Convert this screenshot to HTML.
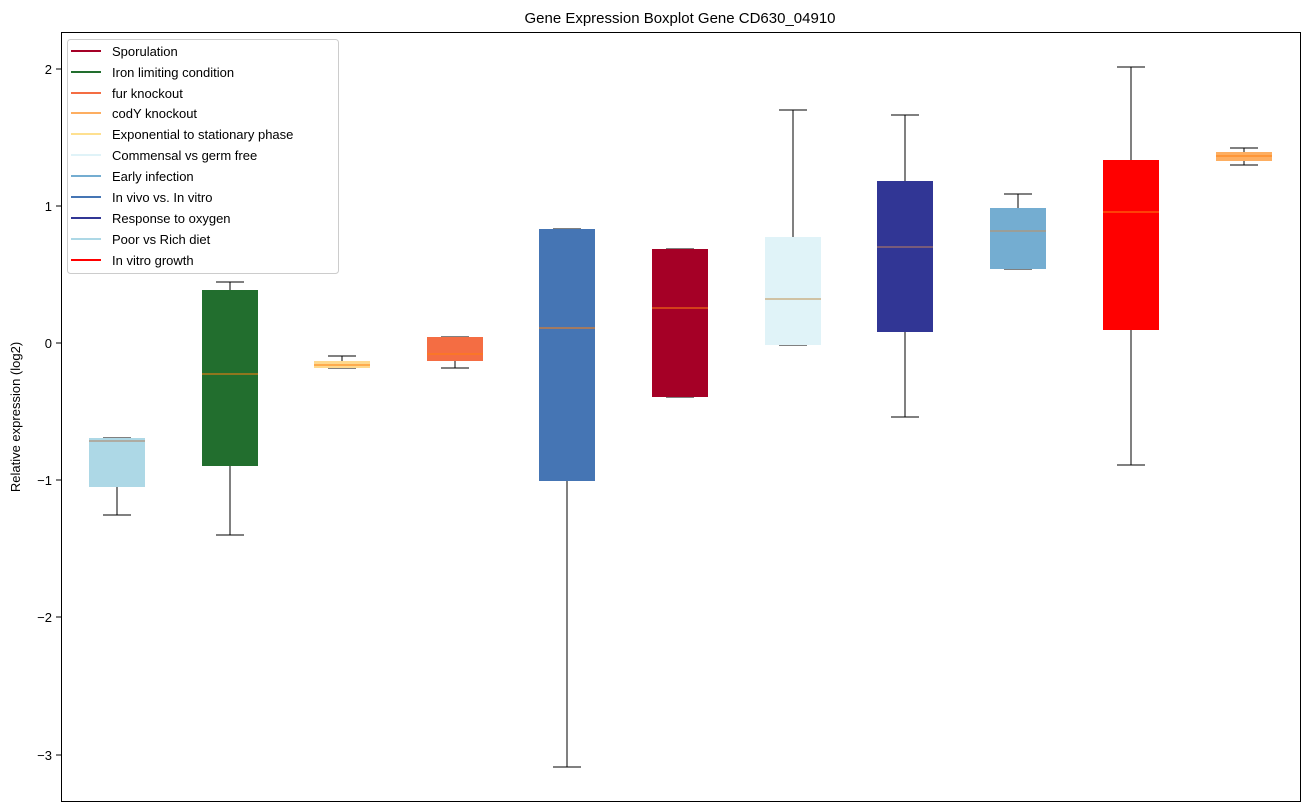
<!DOCTYPE html>
<html><head><style>body{margin:0;background:#fff}svg{display:block;font-family:"Liberation Sans","DejaVu Sans",sans-serif}</style></head><body>
<svg width="1309" height="812" viewBox="0 0 1309 812">
<rect width="1309" height="812" fill="#fff"/>
<text x="680" y="23" font-size="15" text-anchor="middle">Gene Expression Boxplot Gene CD630_04910</text>
<g stroke="#000" stroke-width="1" shape-rendering="crispEdges">
<line x1="117" y1="487" x2="117" y2="515"/><line x1="103" y1="515" x2="131" y2="515"/><line x1="103" y1="438" x2="131" y2="438"/>
<line x1="230" y1="282" x2="230" y2="290"/><line x1="216" y1="282" x2="244" y2="282"/><line x1="230" y1="466" x2="230" y2="535"/><line x1="216" y1="535" x2="244" y2="535"/>
<line x1="342" y1="356" x2="342" y2="361"/><line x1="328" y1="356" x2="356" y2="356"/><line x1="328" y1="368" x2="356" y2="368"/>
<line x1="441" y1="337" x2="469" y2="337"/><line x1="455" y1="361" x2="455" y2="368"/><line x1="441" y1="368" x2="469" y2="368"/>
<line x1="553" y1="229" x2="581" y2="229"/><line x1="567" y1="481" x2="567" y2="767"/><line x1="553" y1="767" x2="581" y2="767"/>
<line x1="666" y1="249" x2="694" y2="249"/><line x1="666" y1="397" x2="694" y2="397"/>
<line x1="793" y1="110" x2="793" y2="237"/><line x1="779" y1="110" x2="807" y2="110"/><line x1="779" y1="345" x2="807" y2="345"/>
<line x1="905" y1="115" x2="905" y2="181"/><line x1="891" y1="115" x2="919" y2="115"/><line x1="905" y1="332" x2="905" y2="417"/><line x1="891" y1="417" x2="919" y2="417"/>
<line x1="1018" y1="194" x2="1018" y2="208"/><line x1="1004" y1="194" x2="1032" y2="194"/><line x1="1004" y1="269" x2="1032" y2="269"/>
<line x1="1131" y1="67" x2="1131" y2="160"/><line x1="1117" y1="67" x2="1145" y2="67"/><line x1="1131" y1="330" x2="1131" y2="465"/><line x1="1117" y1="465" x2="1145" y2="465"/>
<line x1="1244" y1="148" x2="1244" y2="152"/><line x1="1230" y1="148" x2="1258" y2="148"/><line x1="1244" y1="161" x2="1244" y2="165"/><line x1="1230" y1="165" x2="1258" y2="165"/>
</g>
<g>
<rect x="89" y="438" width="56" height="49" fill="#add8e6"/>
<rect x="202" y="290" width="56" height="176" fill="#226e2e"/>
<rect x="314" y="361" width="56" height="7" fill="#fed98e"/>
<rect x="427" y="337" width="56" height="24" fill="#f46d43"/>
<rect x="539" y="229" width="56" height="252" fill="#4575b4"/>
<rect x="652" y="249" width="56" height="148" fill="#a50026"/>
<rect x="765" y="237" width="56" height="108" fill="#e0f3f8"/>
<rect x="877" y="181" width="56" height="151" fill="#313695"/>
<rect x="990" y="208" width="56" height="61" fill="#74add1"/>
<rect x="1103" y="160" width="56" height="170" fill="#ff0000"/>
<rect x="1216" y="152" width="56" height="9" fill="#fdae61"/>
</g>
<g stroke="#ff7f0e" stroke-width="1" shape-rendering="crispEdges">
<line x1="89" y1="441" x2="145" y2="441" stroke="#b08060"/>
<line x1="202" y1="374" x2="258" y2="374"/>
<line x1="314" y1="365" x2="370" y2="365"/>
<line x1="427" y1="354" x2="483" y2="354"/>
<line x1="539" y1="328" x2="595" y2="328"/>
<line x1="652" y1="308" x2="708" y2="308"/>
<line x1="765" y1="299" x2="821" y2="299" stroke="#c09050"/>
<line x1="877" y1="247" x2="933" y2="247" stroke="#c08060"/>
<line x1="990" y1="231" x2="1046" y2="231" stroke="#c09060"/>
<line x1="1103" y1="212" x2="1159" y2="212"/>
<line x1="1216" y1="156" x2="1272" y2="156"/>
</g>
<rect x="61.5" y="32.5" width="1239" height="769" fill="none" stroke="#000"/>
<g font-size="13" text-anchor="end">
<g stroke="#000" shape-rendering="crispEdges"><line x1="56" y1="69" x2="61" y2="69"/><line x1="56" y1="206" x2="61" y2="206"/><line x1="56" y1="343" x2="61" y2="343"/><line x1="56" y1="480" x2="61" y2="480"/><line x1="56" y1="617" x2="61" y2="617"/><line x1="56" y1="755" x2="61" y2="755"/></g>
<text x="52" y="74">2</text><text x="52" y="211">1</text><text x="52" y="348">0</text><text x="52" y="485">−1</text><text x="52" y="622">−2</text><text x="52" y="760">−3</text>
</g>
<text transform="translate(20,417) rotate(-90)" font-size="13" text-anchor="middle">Relative expression (log2)</text>
<rect x="67.5" y="39.5" width="271" height="234" rx="3" fill="#fff" fill-opacity="0.8" stroke="#ccc"/>
<g font-size="13" stroke-width="2">
<line x1="71" y1="51" x2="101" y2="51" stroke="#a50026"/><text x="112" y="56">Sporulation</text>
<line x1="71" y1="72" x2="101" y2="72" stroke="#226e2e"/><text x="112" y="77">Iron limiting condition</text>
<line x1="71" y1="93" x2="101" y2="93" stroke="#f46d43"/><text x="112" y="98">fur knockout</text>
<line x1="71" y1="113" x2="101" y2="113" stroke="#fdae61"/><text x="112" y="118">codY knockout</text>
<line x1="71" y1="134" x2="101" y2="134" stroke="#fee090"/><text x="112" y="139">Exponential to stationary phase</text>
<line x1="71" y1="155" x2="101" y2="155" stroke="#e0f3f8"/><text x="112" y="160">Commensal vs germ free</text>
<line x1="71" y1="176" x2="101" y2="176" stroke="#74add1"/><text x="112" y="181">Early infection</text>
<line x1="71" y1="197" x2="101" y2="197" stroke="#4575b4"/><text x="112" y="202">In vivo vs. In vitro</text>
<line x1="71" y1="218" x2="101" y2="218" stroke="#313695"/><text x="112" y="223">Response to oxygen</text>
<line x1="71" y1="239" x2="101" y2="239" stroke="#add8e6"/><text x="112" y="244">Poor vs Rich diet</text>
<line x1="71" y1="260" x2="101" y2="260" stroke="#ff0000"/><text x="112" y="265">In vitro growth</text>
</g>
</svg>
</body></html>
